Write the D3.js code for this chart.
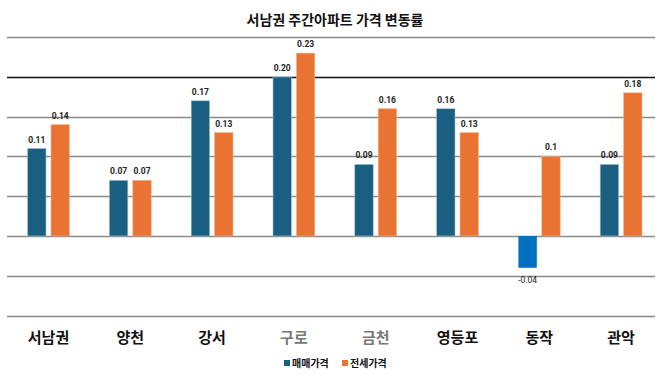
<!DOCTYPE html>
<html>
<head>
<meta charset="utf-8">
<script src="https://cdn.jsdelivr.net/npm/d3@7"></script>
<style>
  body { margin: 0; background: #fff; }
  svg { display: block; font-family: "Noto Sans CJK KR", "Noto Sans", sans-serif; }
</style>
</head>
<body>
<svg width="670" height="377"></svg>
<script>
document.addEventListener('DOMContentLoaded', () => {

    // 지역
    const regions = ['서남권', '양천', '강서', '구로', '금천', '영등포', '동작', '관악'];
    // 매매가격 변동률
    const saleValues = [0.11, 0.07, 0.17, 0.20, 0.09, 0.16, -0.04, 0.09];
    const saleLabels = ['0.11', '0.07', '0.17', '0.20', '0.09', '0.16', '-0.04', '0.09'];
    // 전세가격 변동률
    const rentValues = [0.14, 0.07, 0.13, 0.23, 0.16, 0.13, 0.10, 0.18];
    const rentLabels = ['0.14', '0.07', '0.13', '0.23', '0.16', '0.13', '0.1', '0.18'];
    const gridTicks = [0.25, 0.20, 0.15, 0.10, 0.05, 0, -0.05, -0.10];
    const seriesNames = ['매매가격', '전세가격'];

    const svg = d3.select('svg');

    const x = d3.scaleBand()
        .domain(regions)
        .range([7.6, 662]);

    const y = d3.scaleLinear()
        .domain([-0.10, 0.25])
        .range([315.5, 37.2]);

    // title
    svg.append('text')
        .attr('x', 335)
        .attr('y', 25)
        .attr('text-anchor', 'middle')
        .attr('font-size', 14)
        .attr('font-weight', 'bold')
        .attr('fill', '#111')
        .text('서남권 주간아파트 가격 변동률');

    // grid lines
    svg.append('g')
        .selectAll('line')
        .data(gridTicks)
        .enter()
        .append('line')
        .attr('x1', 7)
        .attr('x2', 655)
        .attr('y1', d => Math.round(y(d)) + 0.5)
        .attr('y2', d => Math.round(y(d)) + 0.5)
        .attr('stroke', d => d === 0.20 ? '#111' : '#8a8a8a')
        .attr('stroke-width', d => d === 0.20 ? 1.4 : 1.3);

    const barW = 18.4;
    const gap = 2.5;

    const groups = svg.append('g')
        .selectAll('g')
        .data(regions)
        .enter()
        .append('g')
        .attr('transform', d => `translate(${x(d) + x.bandwidth() / 2},0)`);

    // 매매 bars
    groups.append('rect')
        .attr('x', -gap - barW)
        .attr('width', barW)
        .attr('y', (d, i) => y(Math.max(0, saleValues[i])))
        .attr('height', (d, i) => Math.abs(y(saleValues[i]) - y(0)))
        .attr('fill', (d, i) => saleValues[i] < 0 ? '#0070c0' : '#1a5f82')
        .attr('stroke', (d, i) => saleValues[i] < 0 ? 'none' : '#9fc0cf')
        .attr('stroke-width', 0.6);

    // 전세 bars
    groups.append('rect')
        .attr('x', gap)
        .attr('width', barW)
        .attr('y', (d, i) => y(Math.max(0, rentValues[i])))
        .attr('height', (d, i) => Math.abs(y(rentValues[i]) - y(0)))
        .attr('fill', '#e87332')
        .attr('stroke', '#f4b48c')
        .attr('stroke-width', 0.6);

    // value labels
    groups.append('text')
        .attr('x', -gap - barW / 2)
        .attr('y', (d, i) => saleValues[i] < 0 ? y(saleValues[i]) + 15 : y(saleValues[i]) - 6)
        .attr('text-anchor', 'middle')
        .attr('font-family', 'Roboto, sans-serif')
        .attr('font-size', 8.5)
        .attr('font-weight', (d, i) => saleValues[i] < 0 ? 'normal' : 'bold')
        .attr('fill', '#222')
        .text((d, i) => saleLabels[i]);

    groups.append('text')
        .attr('x', gap + barW / 2)
        .attr('y', (d, i) => y(rentValues[i]) - 6)
        .attr('text-anchor', 'middle')
        .attr('font-family', 'Roboto, sans-serif')
        .attr('font-size', 8.5)
        .attr('font-weight', 'bold')
        .attr('fill', '#222')
        .text((d, i) => rentLabels[i]);

    // category labels
    groups.append('text')
        .attr('x', 0)
        .attr('y', 343)
        .attr('text-anchor', 'middle')
        .attr('font-size', 15)
        .attr('font-weight', 'bold')
        .attr('fill', d => (d === '구로' || d === '금천') ? '#777' : '#111')
        .text(d => d);

    // legend
    const legendColors = ['#1a5f82', '#e87332'];
    const legendX = [284, 342];
    const legend = svg.append('g')
        .selectAll('g')
        .data(seriesNames)
        .enter()
        .append('g')
        .attr('transform', (d, i) => `translate(${legendX[i]},360)`);

    legend.append('rect')
        .attr('width', 6)
        .attr('height', 6)
        .attr('fill', (d, i) => legendColors[i]);

    legend.append('text')
        .attr('x', 8)
        .attr('y', 7)
        .attr('font-size', 10)
        .attr('font-weight', 'bold')
        .attr('fill', '#111')
        .text(d => d);
});
</script>
</body>
</html>
